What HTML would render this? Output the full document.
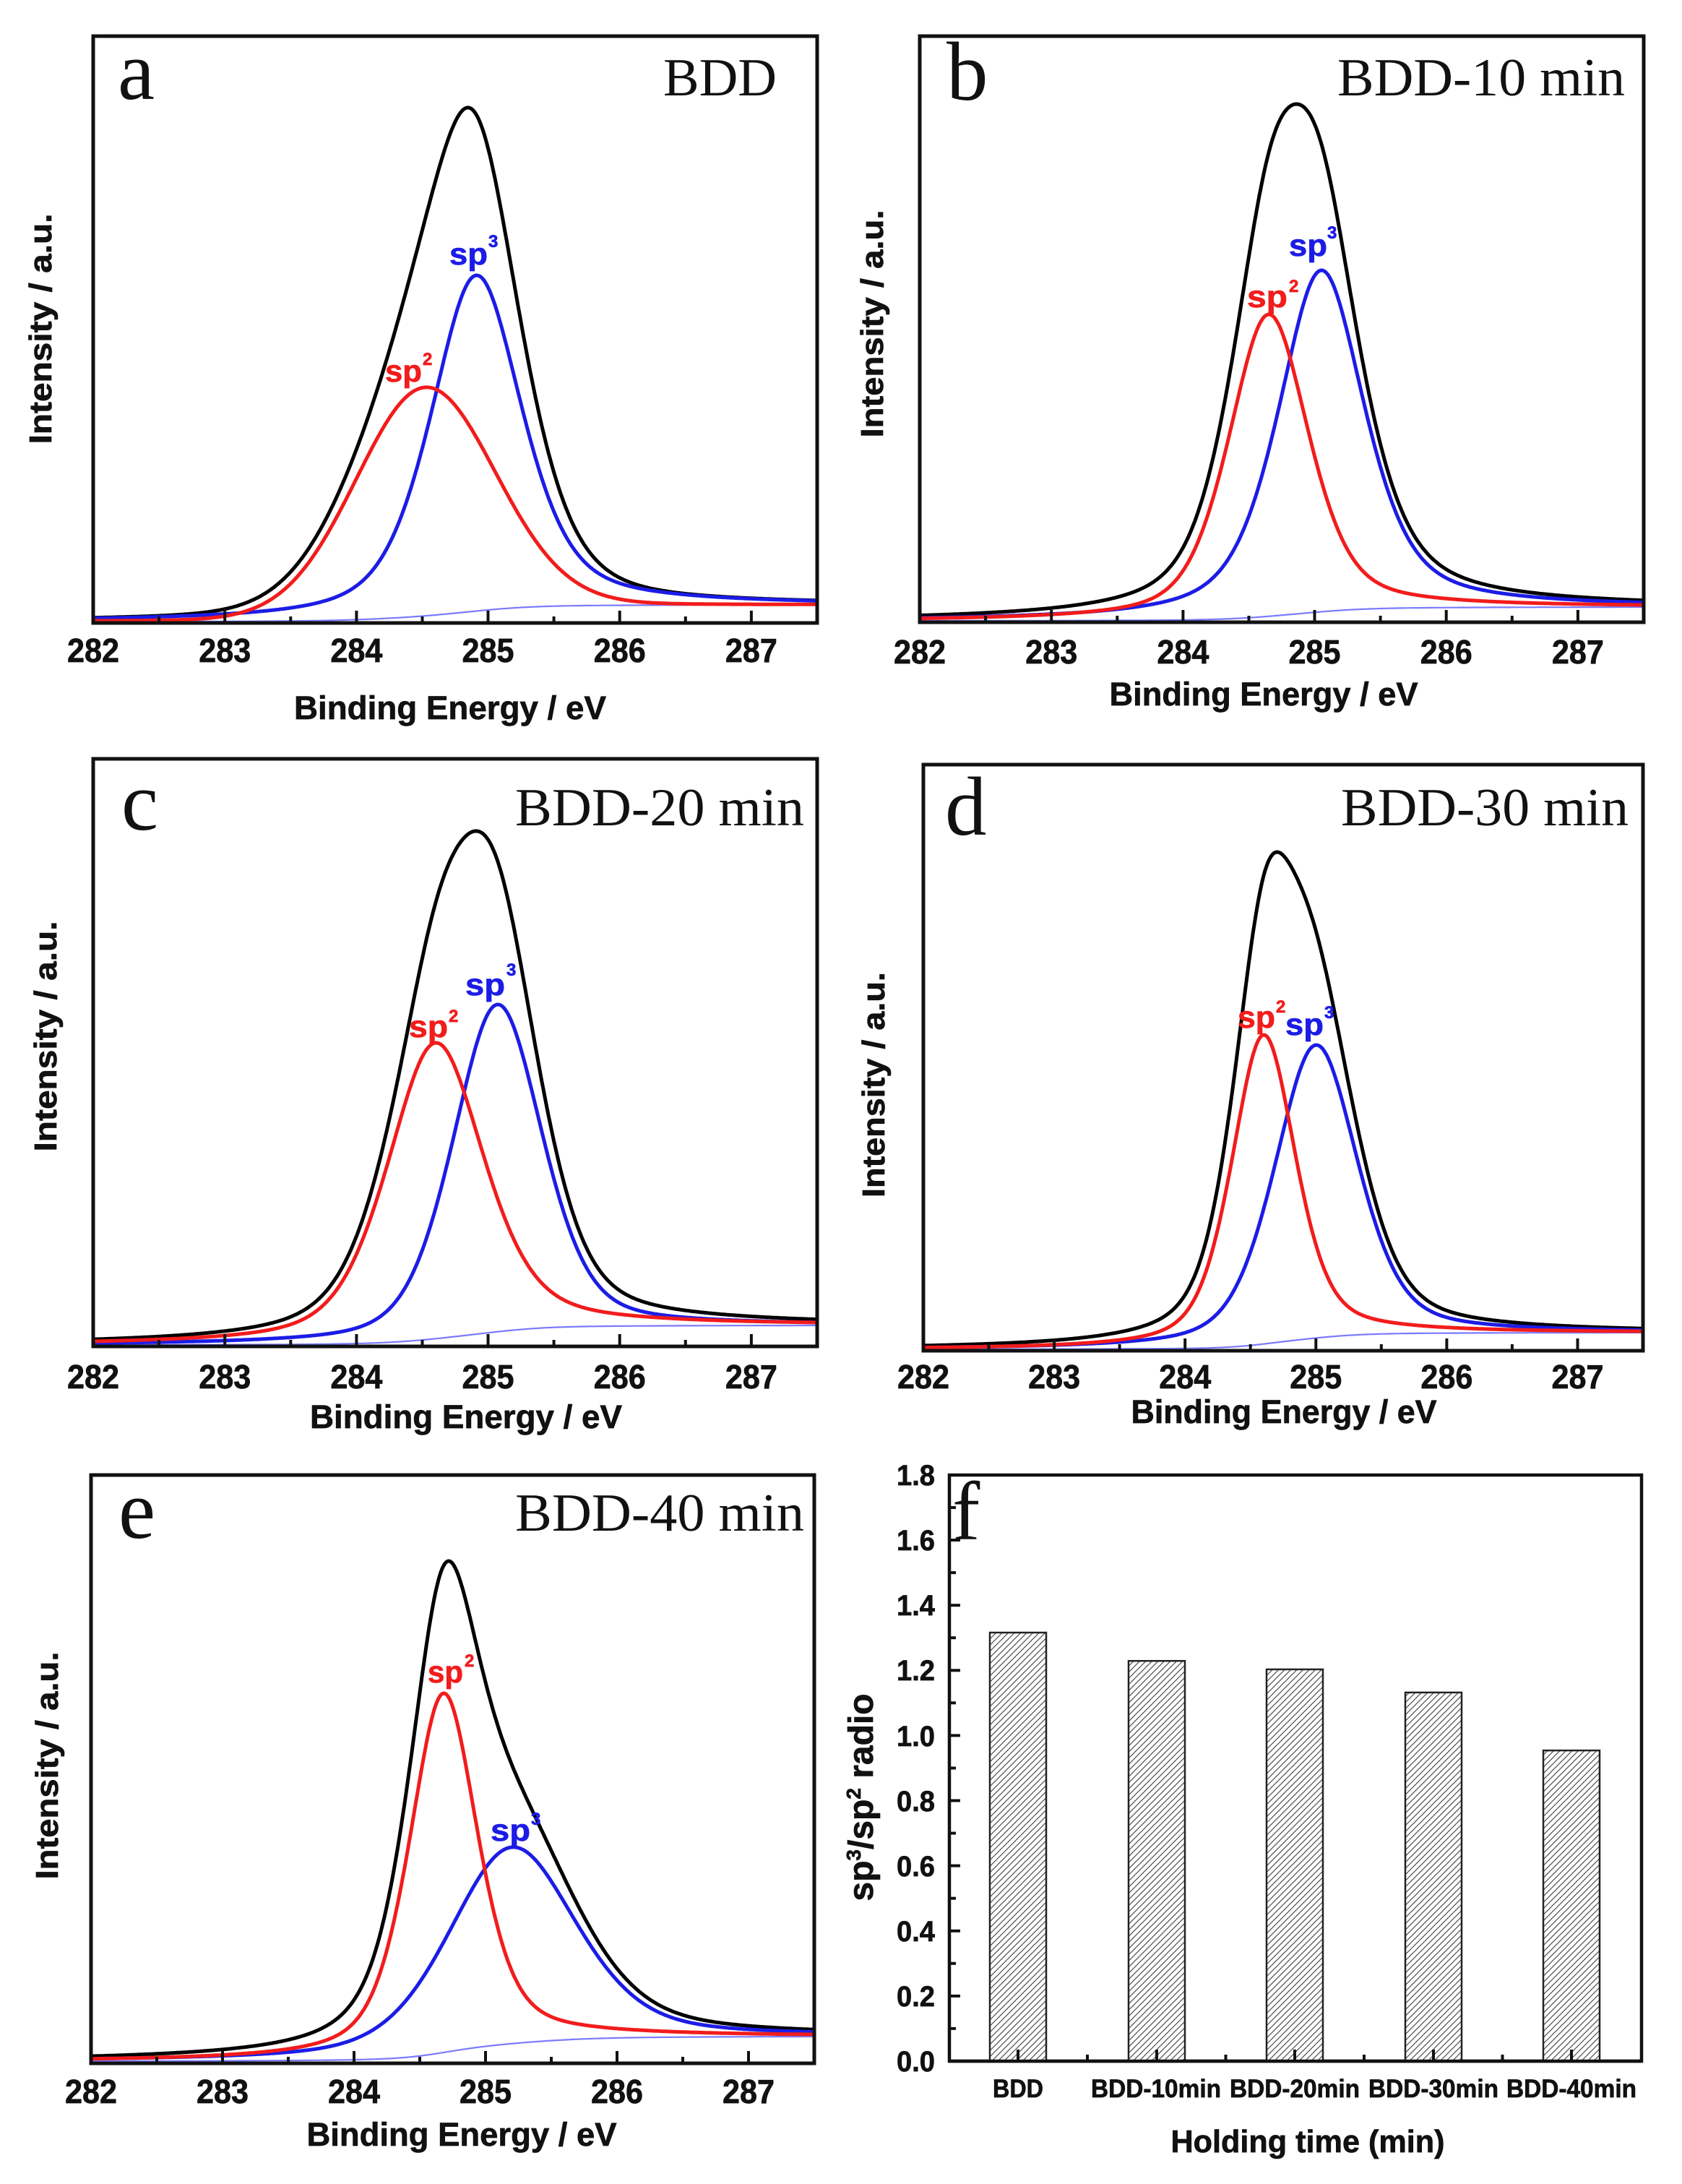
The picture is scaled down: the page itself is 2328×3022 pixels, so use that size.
<!DOCTYPE html>
<html>
<head>
<meta charset="utf-8">
<style>
html,body{margin:0;padding:0;background:#fff;}
svg{display:block;}
.ax{font-family:"Liberation Sans",Arial,sans-serif;font-weight:bold;fill:#111;stroke:#111;stroke-width:0.7px;}
.sf{font-family:"Liberation Serif","Times New Roman",serif;fill:#111;}
</style>
</head>
<body>
<svg id="s" width="2328" height="3022" viewBox="0 0 2328 3022">
<defs>
<pattern id="h" patternUnits="userSpaceOnUse" width="8.5" height="8.5">
<path d="M-2,2 L2,-2 M0,8.5 L8.5,0 M6.5,10.5 L10.5,6.5" stroke="#555" stroke-width="1.3"/>
</pattern>
</defs>
<rect x="0" y="0" width="2328" height="3022" fill="#fff"/>
<g id="dyn"></g>

<!-- frames -->
<g fill="none" stroke="#111" stroke-width="5">
<rect x="129" y="50" width="1002" height="812"/>
<rect x="1273" y="50" width="1002" height="811"/>
<rect x="129" y="1050" width="1002" height="813"/>
<rect x="1278" y="1058" width="996" height="811"/>
<rect x="126" y="2041" width="1001" height="814"/>
<rect x="1314" y="2041" width="958" height="811" stroke-width="4.5"/>
</g>

<!-- panel letters -->
<g class="sf" font-size="115">
<text x="163" y="137">a</text>
<text x="1310" y="138">b</text>
<text x="168" y="1148">c</text>
<text x="1308" y="1155">d</text>
<text x="164" y="2128">e</text>
<text x="1318" y="2130">f</text>
</g>

<!-- titles -->
<g class="sf" font-size="74">
<text x="918" y="132" textLength="157" lengthAdjust="spacingAndGlyphs">BDD</text>
<text x="1851" y="132" textLength="398" lengthAdjust="spacingAndGlyphs">BDD-10 min</text>
<text x="713" y="1142" textLength="400" lengthAdjust="spacingAndGlyphs">BDD-20 min</text>
<text x="1856" y="1142" textLength="398" lengthAdjust="spacingAndGlyphs">BDD-30 min</text>
<text x="713" y="2118" textLength="400" lengthAdjust="spacingAndGlyphs">BDD-40 min</text>
</g>

<!-- axis titles -->
<g class="ax" font-size="45" text-anchor="middle">
<text x="623" y="995" textLength="432" lengthAdjust="spacingAndGlyphs">Binding Energy / eV</text>
<text x="1749" y="976" textLength="427" lengthAdjust="spacingAndGlyphs">Binding Energy / eV</text>
<text x="645" y="1976" textLength="432" lengthAdjust="spacingAndGlyphs">Binding Energy / eV</text>
<text x="1777" y="1969" textLength="423" lengthAdjust="spacingAndGlyphs">Binding Energy / eV</text>
<text x="639" y="2969" textLength="429" lengthAdjust="spacingAndGlyphs">Binding Energy / eV</text>
</g>
<g class="ax" font-size="44" text-anchor="middle">
<text transform="translate(71,455) rotate(-90)" textLength="319" lengthAdjust="spacingAndGlyphs">Intensity / a.u.</text>
<text transform="translate(1222,448) rotate(-90)" textLength="315" lengthAdjust="spacingAndGlyphs">Intensity / a.u.</text>
<text transform="translate(78,1434) rotate(-90)" textLength="319" lengthAdjust="spacingAndGlyphs">Intensity / a.u.</text>
<text transform="translate(1224,1501) rotate(-90)" textLength="312" lengthAdjust="spacingAndGlyphs">Intensity / a.u.</text>
<text transform="translate(80,2443) rotate(-90)" textLength="315" lengthAdjust="spacingAndGlyphs">Intensity / a.u.</text>
</g>

<!-- sp labels -->
<g class="ax" font-size="43">
<g fill="#1c1ce6" stroke="#1c1ce6">
<text x="622" y="366" textLength="53" lengthAdjust="spacingAndGlyphs">sp</text><text x="676" y="342" font-size="24">3</text>
<text x="1784" y="354" textLength="53" lengthAdjust="spacingAndGlyphs">sp</text><text x="1837" y="330" font-size="24">3</text>
<text x="644" y="1377" textLength="55" lengthAdjust="spacingAndGlyphs">sp</text><text x="701" y="1350" font-size="24">3</text>
<text x="1779" y="1432" textLength="53" lengthAdjust="spacingAndGlyphs">sp</text><text x="1833" y="1409" font-size="24">3</text>
<text x="679" y="2547" textLength="55" lengthAdjust="spacingAndGlyphs">sp</text><text x="735" y="2525" font-size="24">3</text>
</g>
<g fill="#f21c1c" stroke="#f21c1c">
<text x="533" y="528" textLength="51" lengthAdjust="spacingAndGlyphs">sp</text><text x="585" y="505" font-size="24">2</text>
<text x="1726" y="425" textLength="56" lengthAdjust="spacingAndGlyphs">sp</text><text x="1784" y="404" font-size="24">2</text>
<text x="566" y="1435" textLength="54" lengthAdjust="spacingAndGlyphs">sp</text><text x="621" y="1414" font-size="24">2</text>
<text x="1713" y="1422" textLength="52" lengthAdjust="spacingAndGlyphs">sp</text><text x="1766" y="1401" font-size="24">2</text>
<text x="592" y="2328" textLength="49" lengthAdjust="spacingAndGlyphs">sp</text><text x="643" y="2306" font-size="24">2</text>
</g>
</g>

<!-- panel f -->
<g class="ax" font-size="40" text-anchor="end">
<text x="1294" y="2866" textLength="53" lengthAdjust="spacingAndGlyphs">0.0</text>
<text x="1294" y="2776" textLength="53" lengthAdjust="spacingAndGlyphs">0.2</text>
<text x="1294" y="2686" textLength="53" lengthAdjust="spacingAndGlyphs">0.4</text>
<text x="1294" y="2596" textLength="53" lengthAdjust="spacingAndGlyphs">0.6</text>
<text x="1294" y="2506" textLength="53" lengthAdjust="spacingAndGlyphs">0.8</text>
<text x="1294" y="2416" textLength="53" lengthAdjust="spacingAndGlyphs">1.0</text>
<text x="1294" y="2325" textLength="53" lengthAdjust="spacingAndGlyphs">1.2</text>
<text x="1294" y="2235" textLength="53" lengthAdjust="spacingAndGlyphs">1.4</text>
<text x="1294" y="2145" textLength="53" lengthAdjust="spacingAndGlyphs">1.6</text>
<text x="1294" y="2055" textLength="53" lengthAdjust="spacingAndGlyphs">1.8</text>
</g>
<g class="ax" font-size="35" text-anchor="middle">
<text x="1409" y="2902" textLength="70" lengthAdjust="spacingAndGlyphs">BDD</text>
<text x="1600" y="2902" textLength="180" lengthAdjust="spacingAndGlyphs">BDD-10min</text>
<text x="1792" y="2902" textLength="180" lengthAdjust="spacingAndGlyphs">BDD-20min</text>
<text x="1984" y="2902" textLength="180" lengthAdjust="spacingAndGlyphs">BDD-30min</text>
<text x="2175" y="2902" textLength="180" lengthAdjust="spacingAndGlyphs">BDD-40min</text>
</g>
<text class="ax" x="1810" y="2978" font-size="44" text-anchor="middle" textLength="379" lengthAdjust="spacingAndGlyphs">Holding time (min)</text>
<text class="ax" transform="translate(1208,2487) rotate(-90)" font-size="48" text-anchor="middle">sp<tspan dy="-17" font-size="28">3</tspan><tspan dy="17">/sp</tspan><tspan dy="-17" font-size="28">2</tspan><tspan dy="17"> radio</tspan></text>

<g id="bars"></g>
</svg>

<script>
(function(){
var P=[
 {L:129,R:1131,Y0:860,bot:862,lab:916,B:23,K:711,r:[284.52,324,1.25,0.05],b:[284.91,479,0.82,0.5]},
 {L:1273,R:2275,Y0:859,bot:861,lab:918,B:19,K:715,r:[284.65,424,0.72,0.45],b:[285.05,485,0.78,0.55]},
 {L:129,R:1131,Y0:1861,bot:1863,lab:1921,B:27,K:711,r:[284.60,418,0.87,0.45],b:[285.07,471,0.80,0.35]},
 {L:1278,R:2274,Y0:1867,bot:1869,lab:1921,B:23,K:688,r:[284.60,435,0.58,0.45],b:[285.00,421,0.75,0.4]},
 {L:126,R:1127,Y0:2852,bot:2855,lab:2910,B:34,K:692,r:[284.68,509,0.62,0.5],b:[285.20,296,1.15,0.4]}
];
function pv(E,p){var t=(E-p[0])/p[2];return p[3]/(1+4*t*t)+(1-p[3])*Math.exp(-2.7726*t*t);}
var out='';
P.forEach(function(p){
 var N=550,Es=[],r=[],b=[],bg=[],i;
 for(i=0;i<=N;i++)Es.push(282+5.5*i/N);
 var hr=p.r[1],hb=p.b[1];
 function calc(){
  var cum=0,c=[];
  for(i=0;i<=N;i++){r[i]=hr*pv(Es[i],p.r);b[i]=hb*pv(Es[i],p.b);cum+=r[i]+b[i];c.push(cum);}
  for(i=0;i<=N;i++)bg[i]=p.B*c[i]/cum;
 }
 function bgAt(E){return bg[Math.round((E-282)/5.5*N)];}
 calc();
 hr=p.r[1]-bgAt(p.r[0]);hb=p.b[1]-bgAt(p.b[0]);
 calc();
 hr=p.r[1]-bgAt(p.r[0]);hb=p.b[1]-bgAt(p.b[0]);
 calc();
 var im=0;for(i=0;i<=N;i++)if(r[i]+b[i]>r[im]+b[im])im=i;
 var s=(p.K-bg[im])/(r[im]+b[im]);
 function X(E){return p.L+(E-282)*(p.R-p.L)/5.5;}
 function path(f){var d='';for(i=0;i<=N;i++){d+=(i?'L':'M')+X(Es[i]).toFixed(1)+','+(p.Y0-f(i)).toFixed(1);}return d;}
 out+='<path d="'+path(function(i){return bg[i];})+'" fill="none" stroke="#7a7aff" stroke-width="2.2"/>';
 out+='<path d="'+path(function(i){return bg[i]+s*(r[i]+b[i]);})+'" fill="none" stroke="#000" stroke-width="5" stroke-linejoin="round"/>';
 out+='<path d="'+path(function(i){return bg[i]+b[i];})+'" fill="none" stroke="#1c1ce6" stroke-width="5" stroke-linejoin="round"/>';
 out+='<path d="'+path(function(i){return bg[i]+r[i];})+'" fill="none" stroke="#f21c1c" stroke-width="5" stroke-linejoin="round"/>';
 for(var k=1;k<=10;k++){
  var E=282+k*0.5,x=X(E),len=(k%2===0)?17:9;
  out+='<line x1="'+x.toFixed(1)+'" y1="'+p.bot+'" x2="'+x.toFixed(1)+'" y2="'+(p.bot-len)+'" stroke="#111" stroke-width="4"/>';
 }
 for(var v=282;v<=287;v++){
  out+='<text class="ax" x="'+X(v).toFixed(1)+'" y="'+p.lab+'" font-size="46" text-anchor="middle" textLength="72" lengthAdjust="spacingAndGlyphs">'+v+'</text>';
 }
});
document.getElementById('dyn').innerHTML=out;

var o='',y0=2852,sc=450.6;
var cx=[1409,1601,1792,1984,2175],vals=[1.316,1.229,1.203,1.132,0.954];
for(var j=0;j<5;j++){
 var top=y0-vals[j]*sc;
 o+='<rect x="'+(cx[j]-39)+'" y="'+top.toFixed(1)+'" width="78" height="'+(y0-top).toFixed(1)+'" fill="#fff"/>';
 o+='<rect x="'+(cx[j]-39)+'" y="'+top.toFixed(1)+'" width="78" height="'+(y0-top).toFixed(1)+'" fill="url(#h)" stroke="#222" stroke-width="2.5"/>';
 o+='<line x1="'+cx[j]+'" y1="'+y0+'" x2="'+cx[j]+'" y2="'+(y0-16)+'" stroke="#111" stroke-width="4"/>';
 if(j<4){var mx=(cx[j]+cx[j+1])/2;o+='<line x1="'+mx+'" y1="'+y0+'" x2="'+mx+'" y2="'+(y0-9)+'" stroke="#111" stroke-width="4"/>';}
}
for(var q=1;q<18;q++){
 var yy=y0-q*0.1*sc,l=(q%2===0)?15:9;
 o+='<line x1="1314" y1="'+yy.toFixed(1)+'" x2="'+(1314+l)+'" y2="'+yy.toFixed(1)+'" stroke="#111" stroke-width="4"/>';
}
o+='<line x1="1314" y1="'+y0+'" x2="2272" y2="'+y0+'" stroke="#111" stroke-width="4.5"/>';
document.getElementById('bars').innerHTML=o;
})();
</script>
</body>
</html>
